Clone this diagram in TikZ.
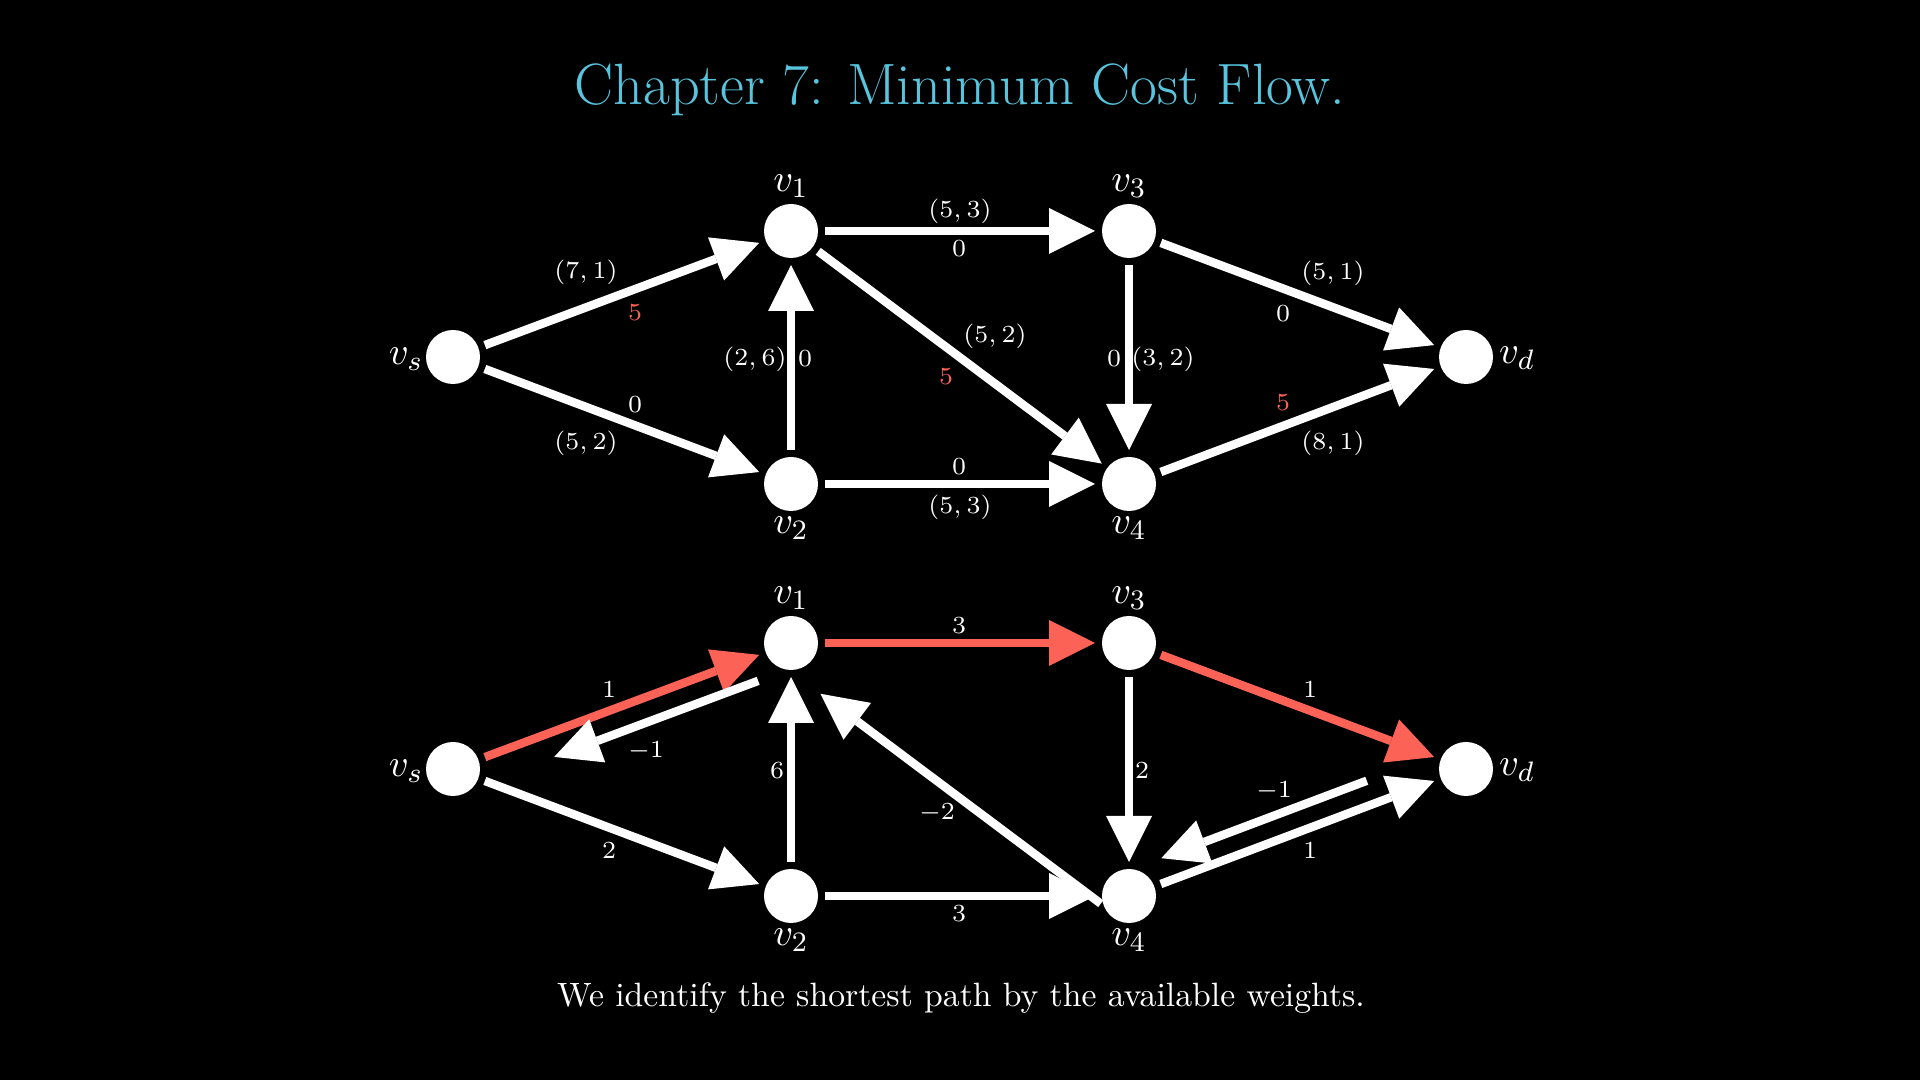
\documentclass[tikz,border=0pt]{standalone}
\usetikzlibrary{arrows.meta,calc}

\definecolor{mred}{HTML}{FC6255}
\definecolor{mblue}{HTML}{58C4DD}

\tikzset{
    vertex/.style={circle,fill=white,minimum size=5.4mm,inner sep=0pt,outer sep=0.7mm},
    vname/.style={text=white,font=\fontsize{11}{13}\selectfont},
    elab/.style={text=white,font=\fontsize{7.2}{8.6}\selectfont,inner sep=0pt},
    flab/.style={elab,text=mred}
}

\begin{document}
\begin{tikzpicture}[>={Triangle[length=4.6mm,width=4.6mm,line width=0pt]},line width=0.85mm]
    \fill[black] (0,0) rectangle (19.2,10.8);
    \useasboundingbox (0,0) rectangle (19.2,10.8);

    % Title and caption
    \node[text=mblue,font=\fontsize{16.6}{19}\selectfont,anchor=base] (title) at (9.6,9.75) {Chapter 7: Minimum Cost Flow.};
    \node[text=white,font=\fontsize{9.6}{11}\selectfont,anchor=base] (note) at (9.61,0.73) {We identify the shortest path by the available weights.};

    % Flow network
    \node[vertex] (fs) at (4.53,7.23) {};
    \node[vertex] (f1) at (7.91,8.49) {};
    \node[vertex] (f2) at (7.91,5.96) {};
    \node[vertex] (f3) at (11.29,8.49) {};
    \node[vertex] (f4) at (11.29,5.96) {};
    \node[vertex] (fd) at (14.66,7.23) {};

    \node[vname] (fs-name) at (4.06,7.21) {$v_s$};
    \node[vname,anchor=base] (f1-name) at (7.91,8.88) {$v_1$};
    \node[vname,anchor=base] (f2-name) at (7.91,5.46) {$v_2$};
    \node[vname,anchor=base] (f3-name) at (11.29,8.88) {$v_3$};
    \node[vname,anchor=base] (f4-name) at (11.29,5.46) {$v_4$};
    \node[vname] (fd-name) at (15.17,7.22) {$v_d$};

    \draw[->,white] (fs) -- (f1);
    \draw[->,white] (fs) -- (f2);
    \draw[->,white] (f1) -- (f3);
    \draw[->,white] (f2) -- (f1);
    \draw[->,white] (f1) -- (f4);
    \draw[->,white] (f2) -- (f4);
    \draw[->,white] (f3) -- (f4);
    \draw[->,white] (f3) -- (fd);
    \draw[->,white] (f4) -- (fd);

    % (capacity, cost) and flow
    \node[elab] (fs1-cap) at (5.86,8.08) {$(7,1)$};
    \node[flab] (fs1-flow) at (6.35,7.67) {$5$};
    \node[elab] (fs2-flow) at (6.35,6.75) {$0$};
    \node[elab] (fs2-cap) at (5.86,6.37) {$(5,2)$};
    \node[elab] (f13-cap) at (9.60,8.69) {$(5,3)$};
    \node[elab] (f13-flow) at (9.59,8.31) {$0$};
    \node[elab] (f21-cap) at (7.55,7.21) {$(2,6)$};
    \node[elab] (f21-flow) at (8.05,7.21) {$0$};
    \node[elab] (f14-cap) at (9.95,7.44) {$(5,2)$};
    \node[flab] (f14-flow) at (9.46,7.03) {$5$};
    \node[elab] (f24-flow) at (9.59,6.13) {$0$};
    \node[elab] (f24-cap) at (9.60,5.73) {$(5,3)$};
    \node[elab] (f34-flow) at (11.14,7.21) {$0$};
    \node[elab] (f34-cap) at (11.63,7.21) {$(3,2)$};
    \node[elab] (f3d-cap) at (13.33,8.07) {$(5,1)$};
    \node[elab] (f3d-flow) at (12.83,7.66) {$0$};
    \node[flab] (f4d-flow) at (12.83,6.77) {$5$};
    \node[elab] (f4d-cap) at (13.33,6.37) {$(8,1)$};

    % Residual network
    \begin{scope}[yshift=-4.12cm]
        \node[vertex] (rs) at (4.53,7.23) {};
        \node[vertex] (r1) at (7.91,8.49) {};
        \node[vertex] (r2) at (7.91,5.96) {};
        \node[vertex] (r3) at (11.29,8.49) {};
        \node[vertex] (r4) at (11.29,5.96) {};
        \node[vertex] (rd) at (14.66,7.23) {};

        \node[vname] (rs-name) at (4.06,7.21) {$v_s$};
        \node[vname,anchor=base] (r1-name) at (7.91,8.88) {$v_1$};
        \node[vname,anchor=base] (r2-name) at (7.91,5.46) {$v_2$};
        \node[vname,anchor=base] (r3-name) at (11.29,8.88) {$v_3$};
        \node[vname,anchor=base] (r4-name) at (11.29,5.46) {$v_4$};
        \node[vname] (rd-name) at (15.17,7.22) {$v_d$};

        \draw[->,mred] (rs) -- (r1);
        \draw[->,white,shorten <=4.4mm,shorten >=9.9mm] ($(r1.center)!2.4mm!90:(rs.center)$) -- ($(rs.center)!2.4mm!-90:(r1.center)$);
        \draw[->,white] (rs) -- (r2);
        \draw[->,mred] (r1) -- (r3);
        \draw[->,white] (r2) -- (r1);
        \draw[->,white,shorten <=1.8mm,shorten >=5.4mm] ($(r4.center)!2.3mm!90:(r1.center)$) -- ($(r1.center)!2.3mm!-90:(r4.center)$);
        \draw[->,white] (r2) -- (r4);
        \draw[->,white] (r3) -- (r4);
        \draw[->,mred] (r3) -- (rd);
        \draw[->,white,shorten <=9.7mm,shorten >=4.35mm] ($(rd.center)!2.4mm!-90:(r4.center)$) -- ($(r4.center)!2.4mm!90:(rd.center)$);
        \draw[->,white] (r4) -- (rd);

        % costs
        \node[elab] (rs1-cost) at (6.09,8.02) {$1$};
        \node[elab] (r1s-cost) at (6.46,7.41) {$-1$};
        \node[elab] (rs2-cost) at (6.09,6.41) {$2$};
        \node[elab] (r13-cost) at (9.59,8.66) {$3$};
        \node[elab] (r21-cost) at (7.77,7.21) {$6$};
        \node[elab] (r41-cost) at (9.37,6.79) {$-2$};
        \node[elab] (r24-cost) at (9.59,5.78) {$3$};
        \node[elab] (r34-cost) at (11.42,7.21) {$2$};
        \node[elab] (r3d-cost) at (13.10,8.02) {$1$};
        \node[elab] (rd4-cost) at (12.74,7.01) {$-1$};
        \node[elab] (r4d-cost) at (13.10,6.41) {$1$};
    \end{scope}
\end{tikzpicture}
\end{document}
